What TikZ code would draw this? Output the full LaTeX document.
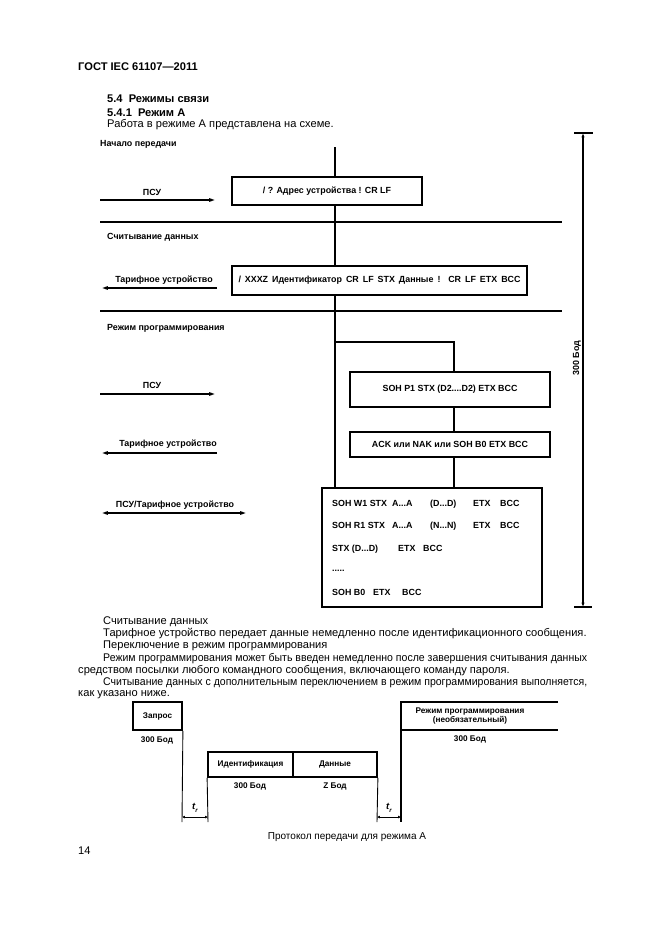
\documentclass[tikz,border=0pt]{standalone}
\usepackage{fontspec}
\usepackage{graphicx}
\setmainfont{Liberation Sans}
\usetikzlibrary{arrows.meta}
\newlength\px
\setlength\px{0.9pt}
\newcommand\trlab{{\bfseries\itshape t}\raisebox{-.45ex}{\fontsize{5.5}{6}\selectfont\bfseries\itshape r}}
\newcommand\cell[2]{\makebox[#1\px][l]{#2}}
\begin{document}
\begin{tikzpicture}[x=0.9pt,y=-0.9pt,
  lab/.style={font=\fontsize{8}{9.5}\selectfont\bfseries, inner sep=0pt},
  txt/.style={font=\fontsize{10}{12}\selectfont, inner sep=0pt, anchor=west},
  hd/.style={font=\fontsize{10}{12}\selectfont\bfseries, inner sep=0pt, anchor=west},
  msgbox/.style={draw, line width=1.8pt, fill=white, inner sep=0pt, font=\fontsize{8}{9.5}\selectfont\bfseries},
  sep/.style={line width=1.8pt},
  flow/.style={line width=2.4pt},
  arr/.style={line width=1.4pt, -{Latex[length=7pt,width=3.5pt]}},
  darr/.style={line width=1.4pt, {Latex[length=7pt,width=3.5pt]}-{Latex[length=7pt,width=3.5pt]}},
  tbox/.style={draw, line width=1.6pt, inner sep=0pt, font=\fontsize{7.4}{8.5}\selectfont\bfseries},
  tlab/.style={font=\fontsize{7.4}{8.5}\selectfont\bfseries, inner sep=0pt},
  thinln/.style={line width=0.8pt},
]
\useasboundingbox (0,0) rectangle (661,935);

% header texts
\node[hd] (gost) at (78,67) {ГОСТ IEC 61107—2011};
\node[hd] (h54) at (107,99) {5.4\ \ Режимы связи};
\node[hd] (h541) at (107,112.5) {5.4.1\ \ Режим А};
\node[txt] (intro) at (107,124.5) {Работа в режиме А представлена на схеме.};
\node[lab, anchor=west] (start) at (100,144) {Начало передачи};

% separators
\coordinate (s1a) at (100,222); \coordinate (s1b) at (562,222);
\coordinate (s2a) at (100,311); \coordinate (s2b) at (562,311);
\draw[sep] (s1a) -- (s1b);
\draw[sep] (s2a) -- (s2b);
\node[lab, anchor=west] (rd) at (107,237) {Считывание данных};
\node[lab, anchor=west] (pm) at (107,328) {Режим программирования};

% message boxes
\node[msgbox, minimum width=190\px, minimum height=28\px] (b1) at (327,191) {/ ? Адрес устройства ! CR LF};
\node[msgbox, minimum width=295\px, minimum height=29\px] (b2) at (379.5,280.5) {\makebox[282\px][s]{/ XXXZ Идентификатор CR LF STX Данные ! CR LF ETX BCC}};
\node[msgbox, minimum width=200\px, minimum height=35\px] (b3) at (450,389.5) {SOH P1 STX (D2....D2) ETX BCC};
\node[msgbox, minimum width=200\px, minimum height=25\px] (b4) at (450,444.5) {ACK или NAK или SOH B0 ETX BCC};
\node[msgbox, minimum width=220\px, minimum height=119\px] (big) at (432,547.5) {};
\node[lab, anchor=west] (m1) at (332,504) {\cell{60}{SOH W1 STX}\cell{38}{A...A}\cell{43}{(D...D)}\cell{27}{ETX}BCC};
\node[lab, anchor=west] (m2) at (332,526) {\cell{60}{SOH R1 STX}\cell{38}{A...A}\cell{43}{(N...N)}\cell{27}{ETX}BCC};
\node[lab, anchor=west] (m3) at (332,549) {\cell{66}{STX (D...D)}\cell{25}{ETX}BCC};
\node[lab, anchor=west] (m4) at (332,571) {.....};
\node[lab, anchor=west] (m5) at (332,592) {\cell{41}{SOH B0}\cell{29}{ETX}BCC};

% flow lines
\coordinate (top) at (335,147);
\coordinate (br) at (335,342);
\coordinate (brx) at (454,342);
\draw[flow] (top) -- (top |- b1.north);
\draw[flow] (b1.south -| top) -- (b2.north -| top);
\draw[flow] (b2.south -| top) -- (big.north -| top);
\draw[flow] (br) -- (brx) -- (b3.north -| brx);
\draw[flow] (b3.south -| brx) -- (b4.north -| brx);
\draw[flow] (b4.south -| brx) -- (big.north -| brx);

% direction arrows
\coordinate (a1l) at (100,200); \coordinate (a1r) at (217,200);
\coordinate (a2l) at (100,288); \coordinate (a2r) at (217,288);
\coordinate (a3l) at (100,394); \coordinate (a3r) at (217,394);
\coordinate (a4l) at (100,453); \coordinate (a4r) at (217,453);
\coordinate (a5l) at (100,513); \coordinate (a5r) at (248,513);
\draw[arr] (a1l) -- (a1r);
\draw[arr] (a2r) -- (a2l);
\draw[arr] (a3l) -- (a3r);
\draw[arr] (a4r) -- (a4l);
\draw[darr] (a5l) -- (a5r);
\node[lab] (l1) at (152,192) {ПСУ};
\node[lab] (l2) at (164,280) {Тарифное устройство};
\node[lab] (l3) at (152,385) {ПСУ};
\node[lab] (l4) at (168,444) {Тарифное устройство};
\node[lab] (l5) at (175,505) {ПСУ/Тарифное устройство};

% 300 baud dimension
\coordinate (dT) at (583,133); \coordinate (dB) at (583,607);
\coordinate (tTl) at (574,133); \coordinate (tTr) at (593,133);
\coordinate (tBl) at (574,607); \coordinate (tBr) at (592,607);
\draw[line width=1.4pt, {Latex[length=4pt,width=3pt]}-{Latex[length=4pt,width=3pt]}] (dT) -- (dB);
\draw[line width=1.4pt] (tTl) -- (tTr);
\draw[line width=1.4pt] (tBl) -- (tBr);
\node[lab, rotate=90] (baud) at (577,358) {300 Бод};

% body text
\node[txt] (p1) at (103,622) {Считывание данных};
\node[txt] (p2) at (103,634) {Тарифное устройство передает данные немедленно после идентификационного сообщения.};
\node[txt] (p3) at (103,646) {Переключение в режим программирования};
\node[txt] (p4) at (103,659) {\resizebox{484\px}{\height}{Режим программирования может быть введен немедленно после завершения считывания данных}};
\node[txt] (p5) at (78,671) {средством посылки любого командного сообщения, включающего команду пароля.};
\node[txt] (p6) at (103,683) {\resizebox{484\px}{\height}{Считывание данных с дополнительным переключением в режим программирования выполняется,}};
\node[txt] (p7) at (78,695) {как указано ниже.};

% timing diagram
\node[tbox, minimum width=49\px, minimum height=28\px] (zap) at (157.5,716) {Запрос};
\node[tlab] (zb) at (157,740) {300 Бод};
\node[tbox, minimum width=85\px, minimum height=25\px] (idb) at (250.5,764.5) {Идентификация};
\node[tbox, minimum width=84\px, minimum height=25\px] (dat) at (335,764.5) {Данные};
\node[tlab] (ib) at (250,786) {300 Бод};
\node[tlab] (db) at (335,786) {Z Бод};
\coordinate (z1) at (182,822);
\coordinate (i1) at (208,822);
\coordinate (d1) at (377,822);
\draw[thinln] (zap.south east) -- (z1);
\draw[thinln] (idb.south west) -- (i1);
\draw[thinln] (dat.south east) -- (d1);
\coordinate (pTL) at (401,702); \coordinate (pTR) at (558,702);
\coordinate (pBL) at (401,730); \coordinate (pBR) at (558,730);
\coordinate (pD) at (401,822);
\draw[line width=1.6pt] (pTR) -- (pTL) -- (pD);
\draw[line width=1.6pt] (pBL) -- (pBR);
\node[tlab, align=center] (prg) at (470,716) {Режим программирования\\(необязательный)};
\node[tlab] (pb) at (470,739) {300 Бод};
\coordinate (t1a) at (182,817); \coordinate (t1b) at (208,817);
\coordinate (t2a) at (377,817); \coordinate (t2b) at (401,817);
\draw[line width=0.9pt, {Latex[length=2.5pt,width=2.5pt]}-{Latex[length=2.5pt,width=2.5pt]}] (t1a) -- (t1b);
\draw[line width=0.9pt, {Latex[length=2.5pt,width=2.5pt]}-{Latex[length=2.5pt,width=2.5pt]}] (t2a) -- (t2b);
\node[tlab, font=\fontsize{8.5}{9}\selectfont] (tr1) at (195,808) {\trlab};
\node[tlab, font=\fontsize{8.5}{9}\selectfont] (tr2) at (389,808) {\trlab};

\node[font=\fontsize{9}{11}\selectfont, inner sep=0pt] (cap) at (347,837) {Протокол передачи для режима А};
\node[txt] (pg) at (78,851) {14};
\end{tikzpicture}
\end{document}
